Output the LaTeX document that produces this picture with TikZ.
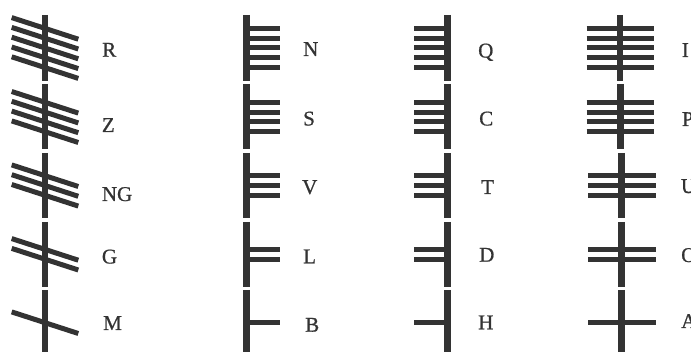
\documentclass[tikz,border=0pt]{standalone}
\usepackage{fontspec}
\setmainfont{Liberation Serif}
\newfontfamily\lblfont[FakeBold=0.8]{Liberation Serif}
\definecolor{ink}{HTML}{333333}
\begin{document}
\begin{tikzpicture}[x=1pt,y=-1pt,
  stemline/.style={draw=ink,line width=6.7pt},
  score/.style={draw=ink,line width=5pt},
  lbl/.style={anchor=base west,inner sep=0pt,text=ink,font=\lblfont\fontsize{21}{21}\selectfont}]
\useasboundingbox (0,0) rectangle (691,352);
\clip (0,0) rectangle (691,352);
% stems
\foreach \x in {45,246.5,447.7}{
  \foreach \a/\b in {15/81,84/149,153/218,222/287,290/360}
    \draw[stemline] (\x,\a) -- (\x,\b);
}
\draw[stemline] (620,15) -- (620,81);
\draw[stemline] (620.5,84) -- (620.5,149);
\foreach \a/\b in {153/218,222/287,290/360}
  \draw[stemline] (621.7,\a) -- (621.7,\b);
% strokes
\foreach \c/\n [count=\r] in {48/5,117/4,185.5/3,254.3/2,322.7/1}{
  \foreach \i in {1,...,\n}{
    \pgfmathsetmacro{\yy}{\c+(\i-(\n+1)/2)*9.8}
    \draw[score] (11.7,{\yy-10.8}) -- (78.3,{\yy+10.8});
    \draw[score] (246.5,\yy) -- (279.5,\yy);
    \draw[score] (414,\yy) -- (447.7,\yy);
    \ifnum\r<3
      \draw[score] (586.7,\yy) -- (654,\yy);
    \else
      \draw[score] (588.3,\yy) -- (655.7,\yy);
    \fi
  }
}
% labels
\node[lbl] (lR)  at (102,56.7) {R};
\node[lbl] (lZ)  at (101.7,132) {Z};
\node[lbl] (lNG) at (101.7,201) {NG};
\node[lbl] (lG)  at (101.7,263.5) {G};
\node[lbl] (lM)  at (103,330) {M};
\node[lbl] (lN)  at (303,56) {N};
\node[lbl] (lS)  at (303,125.5) {S};
\node[lbl] (lV)  at (302,194) {V};
\node[lbl] (lL)  at (303,263.3) {L};
\node[lbl] (lB)  at (305,331.7) {B};
\node[lbl] (lQ)  at (478,57.5) {Q};
\node[lbl] (lC)  at (479,125.5) {C};
\node[lbl] (lT)  at (481,194) {T};
\node[lbl] (lD)  at (479,261.7) {D};
\node[lbl] (lH)  at (478,329.3) {H};
\node[lbl] (lI)  at (681.7,57) {I};
\node[lbl] (lP)  at (681.7,126) {P};
\node[lbl] (lU)  at (680.7,193) {U};
\node[lbl] (lO)  at (681,262) {O};
\node[lbl] (lA)  at (681,328) {A};
\end{tikzpicture}
\end{document}
